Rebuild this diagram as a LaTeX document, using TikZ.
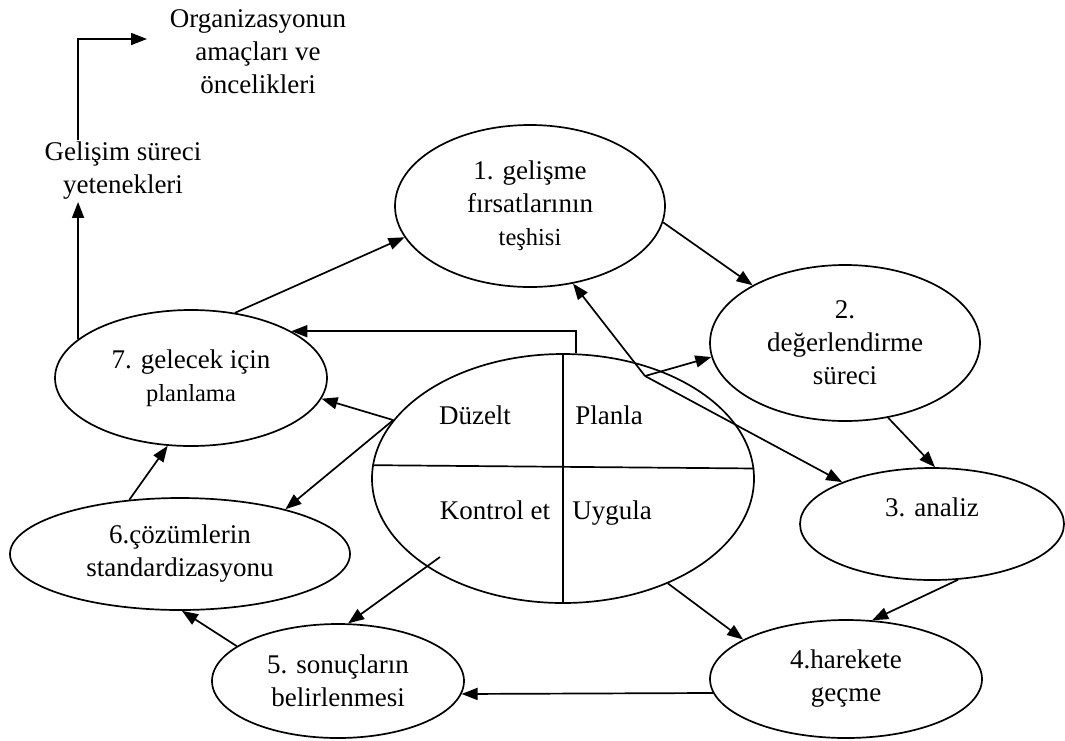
\documentclass[tikz,border=0pt]{standalone}
\usepackage{fontspec}
\setmainfont{Liberation Serif}
\usetikzlibrary{shapes.geometric,arrows.meta}
\newcommand{\bigtext}{\fontsize{27}{33}\selectfont}
\newcommand{\smalltext}{\fontsize{24.5}{33}\selectfont}

\begin{document}
\begin{tikzpicture}[x=1pt,y=-1pt,
  stage/.style={ellipse, draw, line width=1.7pt, inner sep=0pt, align=center, font=\bigtext},
  lbl/.style={align=center, font=\bigtext, inner sep=2pt},
  quad/.style={anchor=base, font=\bigtext, inner sep=0pt},
  arr/.style={-{Triangle[length=16pt,width=12pt]}, line width=1.7pt},
  ln/.style={line width=1.7pt}]
\useasboundingbox (0,0) rectangle (1065,740);

% free texts at the top left
\node[lbl] (o) at (258,52) {Organizasyonun\\amaçları ve\\öncelikleri};
\node[lbl] (g) at (123,171) {Gelişim süreci\\yetenekleri};
\coordinate (otip) at (147,39);

% the seven stages of the cycle
\node[stage, minimum width=270pt, minimum height=162pt] (e1) at (530,206)
  {1. gelişme\\fırsatlarının\\{\smalltext teşhisi}};
\node[stage, minimum width=270pt, minimum height=156pt] (e2) at (845,343)
  {2.\\değerlendirme\\süreci};
\node[stage, minimum width=264pt, minimum height=112pt] (e3) at (932,524)
  {3. analiz\\\mbox{}};
\node[stage, minimum width=272pt, minimum height=118pt] (e4) at (846,679)
  {4.harekete\\geçme};
\node[stage, minimum width=252pt, minimum height=114pt] (e5) at (338,681)
  {5. sonuçların\\belirlenmesi};
\node[stage, minimum width=340pt, minimum height=112pt] (e6) at (180,554)
  {6.çözümlerin\\standardizasyonu};
\node[stage, minimum width=272pt, minimum height=136pt] (e7) at (191,378)
  {7. gelecek için\\{\smalltext planlama}};

% central PDCA ellipse with its four quarters
\node[stage, minimum width=382pt, minimum height=249pt] (c) at (563,478.5) {};
\draw[ln] (c.176.8) -- (c.3.2);
\draw[ln] (c.90) -- (c.270);
\node[quad] (q1) at (475,424) {Düzelt};
\node[quad] (q2) at (609,424) {Planla};
\node[quad] (q3) at (495,519) {Kontrol et};
\node[quad] (q4) at (612,519) {Uygula};

% cycle connectors
\draw[arr] (e7.56) -- (e1.194);
\draw[arr] (e1.353) -- (e2.148);
\coordinate (pv) at (645,376);
\draw[arr] (pv) -- (e1.299);
\draw[arr] (pv) -- (e2.186);
\draw[arr] (pv) -- (e3.155);
\draw[arr] (e2.300) -- (e3.87);
\draw[arr] (e3.295) -- (e4.66);
\draw[arr] (c.315) -- (e4.159);
\draw[arr] (e4.186) -- (e5.354.4);
\coordinate (ks) at (440,557);
\draw[arr] (ks) -- (e5.80);
\draw[arr] (e5.161) -- (e6.272);
\draw[arr] (e6.133) -- (e7.251);
\draw[arr] (c.161.4) -- (e6.23);
\draw[arr] (c.161.4) -- (e7.351);
\draw[arr] (c.84.5) |- (e7.25.4);

% links to the texts at the top left
\draw[arr] (e7.161) -- (e7.161 |- g.south);
\draw[arr] (e7.161 |- g.north) |- (otip);
\end{tikzpicture}
\end{document}
